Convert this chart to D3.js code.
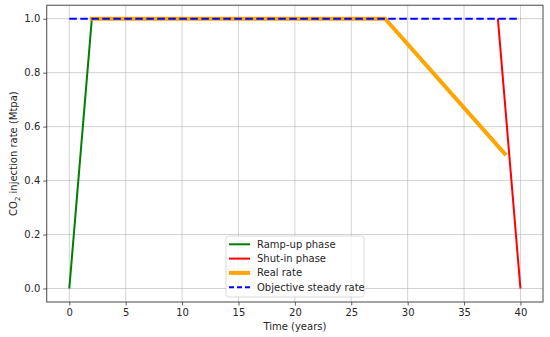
<!DOCTYPE html>
<html>
<head>
<meta charset="utf-8">
<script src="https://cdn.jsdelivr.net/npm/d3@7"></script>
<style>
body{margin:0;background:#fff;}
text{font-family:"DejaVu Sans",sans-serif;fill:#262626;}
</style>
</head>
<body>
<div id="chart"></div>
<script>
// series (years, Mtpa)
var rampUp=[[0,0],[2,1]];
var shutIn=[[38,1],[40,0]];
var realRate=[[2,1],[28,1],[38.6,0.5]];
var objective=[[0,1],[40,1]];
var xTicks=[0,5,10,15,20,25,30,35,40];
var yTicks=[0,0.2,0.4,0.6,0.8,1.0];
var legendItems=[
  {label:'Ramp-up phase',color:'#008000',w:2,dash:null},
  {label:'Shut-in phase',color:'#ff0000',w:2,dash:null},
  {label:'Real rate',color:'#ffa500',w:4,dash:null},
  {label:'Objective steady rate',color:'#0000ff',w:2,dash:'5,3'}
];

var W=550,H=337;
var m={l:46.75,r:7,t:5.2,b:35};
var svg=d3.select('#chart').append('svg')
  .attr('width',W).attr('height',H);

var x=d3.scaleLinear().domain([-2,42]).range([m.l,W-m.r]);
var y=d3.scaleLinear().domain([-0.05,1.05]).range([H-m.b,m.t]);

// grid
var grid=svg.append('g');
grid.selectAll('.gx').data(xTicks).enter().append('line')
  .attr('x1',d=>x(d)).attr('x2',d=>x(d))
  .attr('y1',m.t).attr('y2',H-m.b)
  .style('stroke','#b0b0b0').style('stroke-width',0.8).style('opacity',0.7);
grid.selectAll('.gy').data(yTicks).enter().append('line')
  .attr('x1',m.l).attr('x2',W-m.r)
  .attr('y1',d=>y(d)).attr('y2',d=>y(d))
  .style('stroke','#b0b0b0').style('stroke-width',0.8).style('opacity',0.7);

// axes
var xa=svg.append('g').attr('transform','translate(0,'+(H-m.b)+')')
  .call(d3.axisBottom(x).tickValues(xTicks).tickFormat(d3.format('d')).tickSizeOuter(0).tickSize(3.5).tickPadding(3));
var ya=svg.append('g').attr('transform','translate('+m.l+',0)')
  .call(d3.axisLeft(y).tickValues(yTicks).tickFormat(d3.format('.1f')).tickSizeOuter(0).tickSize(3.5).tickPadding(3));
[xa,ya].forEach(function(a){
  a.select('.domain').remove();
  a.selectAll('text').style('font-size','10px').style('fill','#262626')
    .attr('font-family','DejaVu Sans');
  a.selectAll('.tick line').style('stroke','#333').style('stroke-width',0.8);
});

var line=d3.line().x(d=>x(d[0])).y(d=>y(d[1]));
var plot=svg.append('g');
plot.append('path').datum(rampUp).attr('d',line)
  .style('fill','none').style('stroke','#008000').style('stroke-width',2);
plot.append('path').datum(shutIn).attr('d',line)
  .style('fill','none').style('stroke','#ff0000').style('stroke-width',2);
plot.append('path').datum(realRate).attr('d',line)
  .style('fill','none').style('stroke','#ffa500').style('stroke-width',4)
  .style('stroke-linecap','square');
plot.append('path').datum(objective).attr('d',line)
  .style('fill','none').style('stroke','#0000ff').style('stroke-width',2)
  .style('stroke-dasharray','7.5,3.5');

// frame
svg.append('rect').attr('x',m.l).attr('y',m.t)
  .attr('width',W-m.r-m.l).attr('height',H-m.b-m.t)
  .style('fill','none').style('stroke','#333').style('stroke-width',0.9);

// axis labels
svg.append('text').attr('x',(m.l+W-m.r)/2).attr('y',330)
  .attr('text-anchor','middle').style('font-size','10px').text('Time (years)');
var yl=svg.append('text')
  .attr('transform','translate(17,'+((m.t+H-m.b)/2)+') rotate(-90)')
  .attr('text-anchor','middle').style('font-size','10px');
yl.append('tspan').text('CO');
yl.append('tspan').attr('dy',2.5).style('font-size','7px').text('2');
yl.append('tspan').attr('dy',-2.5).text(' injection rate (Mtpa)');

// legend
var lg=svg.append('g').attr('transform','translate(226,236)');
lg.append('rect').attr('width',138).attr('height',61).attr('rx',2.5)
  .style('fill','#fff').style('fill-opacity',0.8)
  .style('stroke','#d0d0d0').style('stroke-width',0.8);
var li=lg.selectAll('.li').data(legendItems).enter().append('g')
  .attr('transform',(d,i)=>'translate(0,'+(8.3+i*14.3)+')');
li.append('line').attr('x1',3).attr('x2',24).attr('y1',0).attr('y2',0)
  .style('stroke',d=>d.color).style('stroke-width',d=>d.w)
  .style('stroke-dasharray',d=>d.dash);
li.append('text').attr('x',31).attr('y',3.5).style('font-size','10px')
  .text(d=>d.label);
</script>
</body>
</html>
